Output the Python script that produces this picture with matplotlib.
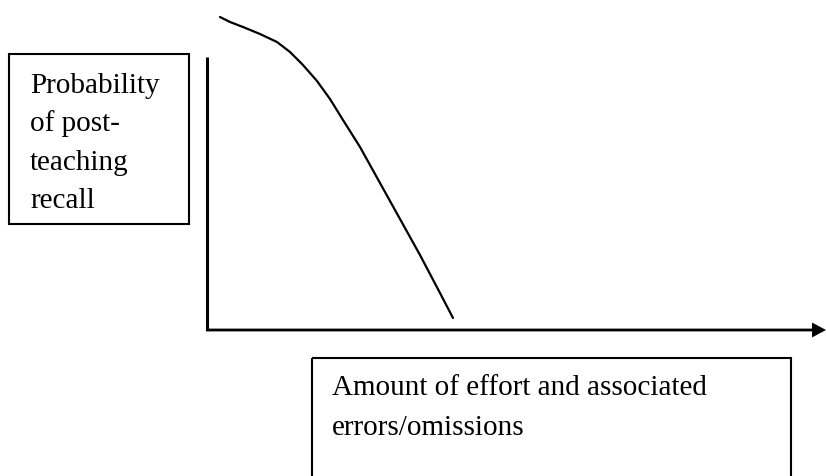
import matplotlib.pyplot as plt
from matplotlib.patches import Rectangle

plt.rcParams['font.family'] = ['Liberation Serif', 'DejaVu Serif']

# curve (pixel units, y grows downward)
curve_x = [220, 230, 243, 260, 277, 290, 303, 317, 330, 343, 360, 380, 400, 420, 440, 453]
curve_y = [18, 23, 28, 35, 43, 53, 66, 82, 100, 121, 148, 184, 220, 256, 294, 319]

y_label_lines = ["Probability", "of post-", "teaching", "recall"]
x_label_lines = ["Amount of effort and associated", "errors/omissions"]

fig = plt.figure(figsize=(8.26, 4.77), dpi=100)
ax = fig.add_axes([0, 0, 1, 1])
ax.set_xlim(0, 826)
ax.set_ylim(477, 0)
ax.axis('off')

# axes of the sketch
ax.plot([207, 207], [58, 331], color='black', lw=2.2, solid_capstyle='butt')
ax.arrow(206, 331, 826 - 206, 0, width=2.8, head_width=15, head_length=14,
         length_includes_head=True, color='black', lw=0)

# the curve
ax.plot(curve_x, curve_y, color='black', lw=1.6, solid_joinstyle='round',
        solid_capstyle='round')

# label boxes
ax.add_patch(Rectangle((9, 55), 180, 170, fill=False, ec='black', lw=1.5))
ax.add_patch(Rectangle((312, 359), 479, 140, fill=False, ec='black', lw=1.5))

for i, line in enumerate(y_label_lines):
    ax.text(30, 93 + i * 38.5, line, fontsize=21, va='baseline', ha='left')
for i, line in enumerate(x_label_lines):
    ax.text(332, 395 + i * 40, line, fontsize=21, va='baseline', ha='left')

fig.savefig('out.png', dpi=100)
